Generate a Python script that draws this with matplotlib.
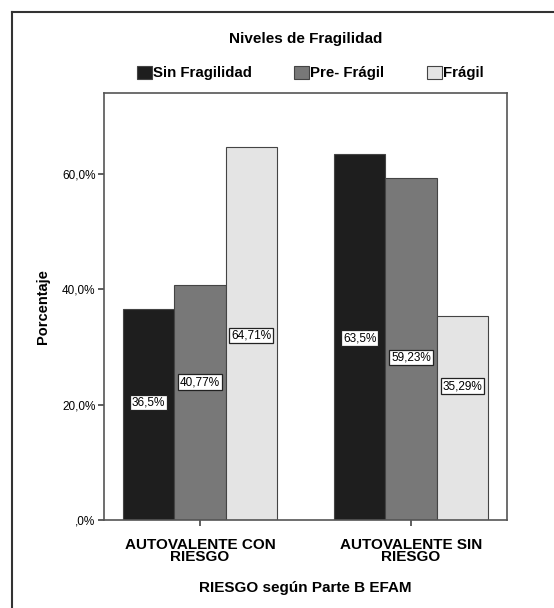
import matplotlib
matplotlib.use("Agg")
import matplotlib.pyplot as plt
from matplotlib.lines import Line2D
import numpy as np

plt.rcParams['font.family'] = ['Liberation Sans', 'DejaVu Sans']

categories = ["AUTOVALENTE CON\nRIESGO", "AUTOVALENTE SIN\nRIESGO"]
series_names = ["Sin Fragilidad", "Pre- Frágil", "Frágil"]
sin_fragilidad = [36.5, 63.5]
pre_fragil = [40.77, 59.23]
fragil = [64.71, 35.29]
value_labels = [["36,5%", "63,5%"], ["40,77%", "59,23%"], ["64,71%", "35,29%"]]
yticks = [0, 20, 40, 60]
ytick_labels = [",0%", "20,0%", "40,0%", "60,0%"]

colors = ["#1e1e1e", "#787878", "#e4e4e4"]
label_y = [[20.4, 31.5], [23.9, 28.2], [32.0, 23.2]]

fig = plt.figure(figsize=(5.54, 6.08), dpi=100)
ax = fig.add_axes([0.1877, 0.1447, 0.7274, 0.7023])

x = np.arange(len(categories))
w = 0.243
series = [sin_fragilidad, pre_fragil, fragil]
for i, vals in enumerate(series):
    xs = x + (i - 1) * w
    ax.bar(xs, vals, width=w, color=colors[i], edgecolor="#444444", linewidth=0.8,
           label=series_names[i], zorder=2)
    for j in range(len(categories)):
        ax.text(xs[j], label_y[i][j], value_labels[i][j], ha="center", va="center",
                fontsize=8.5, zorder=3,
                bbox=dict(boxstyle="square,pad=0.15", fc="white", ec="#222222", lw=0.9))

ax.set_xlim(-0.455, 1.455)
ax.set_ylim(0, 74)
ax.set_yticks(yticks)
ax.set_yticklabels(ytick_labels, fontsize=8.5)
ax.set_xticks(x)
ax.set_xticklabels(categories, fontsize=11, fontweight="bold", linespacing=0.85)
ax.tick_params(axis="both", length=4, width=1.2, color="#444444", pad=2)
ax.tick_params(axis="x", pad=9)
for s in ax.spines.values():
    s.set_color("#555555")
    s.set_linewidth(1.2)

ax.set_ylabel("Porcentaje", fontsize=10.5, fontweight="bold", labelpad=9)
ax.set_xlabel("RIESGO según Parte B EFAM", fontsize=11, fontweight="bold", labelpad=12)

fig.text(0.552, 0.936, "Niveles de Fragilidad", ha="center", va="center",
         fontsize=11, fontweight="bold")
leg = fig.legend(loc="center", bbox_to_anchor=(0.56, 0.88), ncol=3, frameon=False,
                 handlelength=1.0, handleheight=1.0, handletextpad=0.1,
                 columnspacing=2.8, prop={"weight": "bold", "size": 10.8})

fig.add_artist(Line2D([12 / 554, 12 / 554], [0, 1 - 12 / 608], transform=fig.transFigure,
                      color="#333333", lw=1.5))
fig.add_artist(Line2D([12 / 554, 1], [1 - 12 / 608, 1 - 12 / 608], transform=fig.transFigure,
                      color="#333333", lw=1.5))

fig.savefig("out.png", dpi=100)
